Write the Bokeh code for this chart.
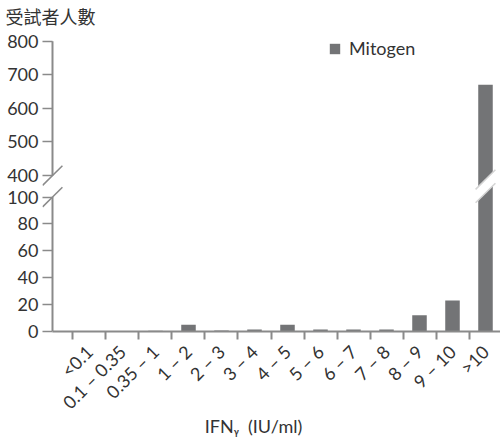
import math
from bokeh.plotting import figure
from bokeh.models import FixedTicker, Range1d, Legend, LegendItem, ColumnDataSource
from bokeh.embed import file_html
from bokeh.resources import INLINE

# ---- data ----
categories = ["<0.1", "0.1 – 0.35", "0.35 – 1", "1 – 2", "2 – 3", "3 – 4", "4 – 5",
              "5 – 6", "6 – 7", "7 – 8", "8 – 9", "9 – 10", ">10"]
counts = [0, 0, 0.5, 5, 0.7, 1.5, 5, 1.5, 1.5, 1.5, 12, 23, 670]
lower_ticks = [0, 20, 40, 60, 80, 100]
upper_ticks = [400, 500, 600, 700, 800]
series_name = "Mitogen"
y_title = "受試者人數"
x_title = "IFNᵧ\u2002(IU/ml)"

# ---- broken axis transform ----
LOW_MAX = 100
UP_MIN = 400
GAP = 16          # gap (in lower-axis units) between the two segments
UP_SCALE = 0.25   # upper segment compression


def t(v):
    if v <= LOW_MAX:
        return v
    return LOW_MAX + GAP + (v - UP_MIN) * UP_SCALE


FONT = "Lato"
TXT = "#333333"
AX = "#8a8a8a"
BAR = "#737476"

XL, XR = -1.4242, 12.4545
AX_X = -1.1212
YT = 225.4

p = figure(width=500, height=439, x_range=Range1d(XL, XR), y_range=Range1d(0, YT),
           output_backend="svg", toolbar_location=None,
           min_border_left=42, min_border_right=0, min_border_top=26,
           min_border_bottom=107)
p.outline_line_color = None
p.grid.visible = False

# title (y-axis caption)
p.title.text = y_title
p.title.align = "left"
p.title.offset = -37
p.title.standoff = 0
p.title.text_font = "Noto Sans CJK TC"
p.title.text_font_size = "18px"
p.title.text_font_style = "normal"
p.title.text_color = TXT

xs = list(range(len(categories)))
src = ColumnDataSource(dict(x=xs, top=[t(v) for v in counts], cat=categories))
bars = p.vbar(x="x", top="top", width=0.44, bottom=0, source=src,
              fill_color=BAR, line_color=None)

# break on the tall bar
bi = max(range(len(counts)), key=lambda i: counts[i])
cy = (LOW_MAX + t(UP_MIN)) / 2
hw = 0.3
sl = 24.3  # y-units per x-unit for a 45deg slash
th = 5.0
p.patch([bi - hw, bi + hw, bi + hw, bi - hw],
        [cy - th - hw * sl, cy - th + hw * sl, cy + th + hw * sl, cy + th - hw * sl],
        fill_color="white", line_color=None)
p.segment(x0=[bi - hw, bi - hw], y0=[cy - th - hw * sl, cy + th - hw * sl],
          x1=[bi + hw, bi + hw], y1=[cy - th + hw * sl, cy + th + hw * sl],
          line_color="#d4d4d4", line_width=1.5)

# x axis
xaxis = p.xaxis[0]
xaxis.ticker = FixedTicker(ticks=xs, minor_ticks=[i - 0.5 for i in xs])
xaxis.major_label_overrides = {i: c for i, c in enumerate(categories)}
xaxis.bounds = (AX_X, XR)
xaxis.major_tick_out = 0
xaxis.major_tick_in = 0
xaxis.minor_tick_out = 8
xaxis.minor_tick_in = 0
xaxis.minor_tick_line_color = AX
xaxis.minor_tick_line_width = 2
xaxis.axis_line_color = AX
xaxis.axis_line_width = 2
xaxis.major_label_orientation = math.pi / 4
xaxis.major_label_standoff = 9
xaxis.major_label_text_font = FONT
xaxis.major_label_text_font_size = "18px"
xaxis.major_label_text_color = TXT
xaxis.axis_label = x_title + "\u2003\u2003\u2002"
xaxis.axis_label_standoff = -9
xaxis.axis_label_text_font = FONT
xaxis.axis_label_text_font_size = "18px"
xaxis.axis_label_text_font_style = "normal"
xaxis.axis_label_text_color = TXT

# y axis (ticks at transformed positions, labels with true values)
yticks = [t(v) for v in lower_ticks + upper_ticks]
yaxis = p.yaxis[0]
yaxis.ticker = FixedTicker(ticks=yticks, minor_ticks=[])
yaxis.major_label_overrides = {t(v): str(v) for v in lower_ticks + upper_ticks}
yaxis.axis_line_color = None
yaxis.major_tick_out = 0
yaxis.major_tick_in = 10
yaxis.minor_tick_out = 0
yaxis.major_tick_line_color = AX
yaxis.major_tick_line_width = 1.5
yaxis.major_label_standoff = 4
yaxis.major_label_text_font = FONT
yaxis.major_label_text_font_size = "18px"
yaxis.major_label_text_color = TXT

# y axis line drawn in two pieces (broken axis)
p.segment(x0=[AX_X, AX_X], y0=[0, t(UP_MIN)], x1=[AX_X, AX_X],
          y1=[LOW_MAX, t(upper_ticks[-1])], line_color=AX, line_width=2)

# axis break slashes
dx = 0.30
dy = dx * sl
p.segment(x0=[AX_X - dx, AX_X - dx], y0=[t(UP_MIN) - dy, LOW_MAX - dy],
          x1=[AX_X + dx, AX_X + dx], y1=[t(UP_MIN) + dy, LOW_MAX + dy],
          line_color=AX, line_width=1.5)

# legend
legend = Legend(items=[LegendItem(label=series_name, renderers=[bars])],
                location=(286, 272), padding=0, spacing=0, margin=0,
                glyph_width=13, glyph_height=13, label_standoff=8,
                label_text_font=FONT, label_text_font_size="18px",
                label_text_color=TXT, border_line_color=None,
                background_fill_alpha=0)
p.add_layout(legend, "center")

open("out.html", "w").write(file_html(p, INLINE))
